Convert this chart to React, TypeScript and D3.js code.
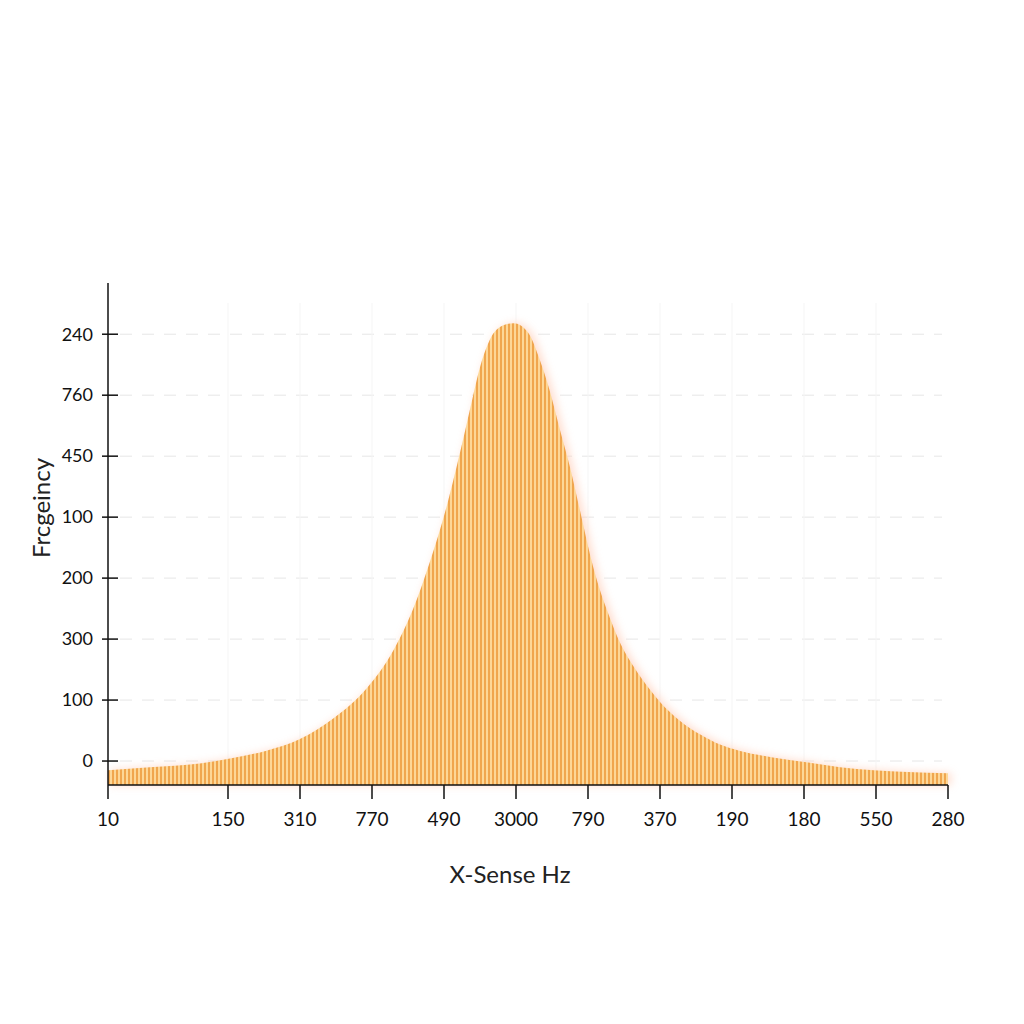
import { useEffect, useRef } from "react";
import * as d3 from "d3";

// bin position (in axis units) and height
const BIN_X = [
  0, 1.75, 3.83, 5.2, 6.6, 8.0, 9.4, 10.8, 11.9, 12.7, 13.4, 14.1, 14.8, 15.2,
  15.5, 15.9, 16.5, 16.9, 17.5, 18.0, 18.4, 18.8, 19.25, 19.7, 20.1, 20.5,
  20.9, 21.3, 21.9, 22.6, 23.0, 23.8, 24.7, 25.5, 26.3, 27.7, 29.1, 30.5, 31.9,
  33.3, 35,
];
const BIN_COUNT = [
  -0.15, -0.1, -0.04, 0.05, 0.17, 0.36, 0.7, 1.2, 1.82, 2.48, 3.25, 4.16, 5.28,
  5.97, 6.46, 6.9, 7.15, 7.18, 7.03, 6.57, 6.08, 5.48, 4.82, 4.05, 3.36, 2.8,
  2.36, 1.97, 1.55, 1.16, 0.97, 0.67, 0.43, 0.27, 0.17, 0.06, -0.02, -0.1,
  -0.15, -0.18, -0.2,
];

const X_TICKS = [0, 5, 8, 11, 14, 17, 20, 23, 26, 29, 32, 35];
const X_TICK_LABELS = [
  "10", "150", "310", "770", "490", "3000", "790", "370", "190", "180", "550", "280",
];
const Y_TICKS = [0, 1, 2, 3, 4, 5, 6, 7];
const Y_TICK_LABELS = ["0", "100", "300", "200", "100", "450", "760", "240"];

const X_TITLE = "X-Sense Hz";
const Y_TITLE = "Frcgeincy";

const W = 1024;
const H = 1024;
const PLOT = { left: 108, right: 948, top: 283, bottom: 785 };
const FONT = "Lato, 'DejaVu Sans', sans-serif";

export default function App() {
  const svgRef = useRef<SVGSVGElement>(null);

  useEffect(() => {
    const svgEl = svgRef.current;
    if (!svgEl) return;
    const svg = d3.select(svgEl);
    svg.selectAll("*").remove();

    const x = d3.scaleLinear().domain([0, 35]).range([PLOT.left, PLOT.right]);
    const y = d3.scaleLinear().domain([-0.393, 7.84]).range([PLOT.bottom, PLOT.top]);
    const yBase = y.domain()[0];

    const defs = svg.append("defs");
    const pat = defs
      .append("pattern")
      .attr("id", "stripes")
      .attr("patternUnits", "userSpaceOnUse")
      .attr("x", PLOT.left)
      .attr("width", 4)
      .attr("height", 10);
    pat.append("rect").attr("width", 4).attr("height", 10).attr("fill", "#fdd797");
    pat.append("rect").attr("width", 2).attr("height", 10).attr("fill", "#f0a64e");

    const glow = defs
      .append("filter")
      .attr("id", "glow")
      .attr("x", "-20%")
      .attr("y", "-20%")
      .attr("width", "140%")
      .attr("height", "140%");
    glow.append("feGaussianBlur").attr("stdDeviation", 4);

    // gridlines (very faint)
    svg
      .append("g")
      .selectAll("line")
      .data(Y_TICKS)
      .join("line")
      .attr("x1", PLOT.left + 12)
      .attr("x2", PLOT.right - 6)
      .attr("y1", (d) => y(d))
      .attr("y2", (d) => y(d))
      .attr("stroke", "#e6e6e6")
      .attr("stroke-width", 1)
      .attr("stroke-dasharray", "12 10");

    svg
      .append("g")
      .selectAll("line")
      .data(X_TICKS.slice(1, -1))
      .join("line")
      .attr("x1", (d) => x(d))
      .attr("x2", (d) => x(d))
      .attr("y1", PLOT.top + 20)
      .attr("y2", PLOT.bottom)
      .attr("stroke", "#f5f5f5")
      .attr("stroke-width", 1);

    const pts = BIN_X.map((bx, i) => [bx, BIN_COUNT[i]] as [number, number]);
    const area = d3
      .area<[number, number]>()
      .x((d) => x(d[0]))
      .y0(y(yBase))
      .y1((d) => y(d[1]))
      .curve(d3.curveMonotoneX);

    // soft halo behind the distribution
    svg
      .append("path")
      .attr("d", area(pts)!)
      .attr("transform", "translate(3,0)")
      .attr("fill", "#ffcdb8")
      .attr("opacity", 0.7)
      .attr("filter", "url(#glow)");

    svg.append("path").attr("d", area(pts)!).attr("fill", "url(#stripes)");

    // y axis
    svg
      .append("line")
      .attr("x1", PLOT.left)
      .attr("x2", PLOT.left)
      .attr("y1", PLOT.top)
      .attr("y2", PLOT.bottom)
      .attr("stroke", "#111")
      .attr("stroke-width", 1.5);

    const yg = svg.append("g");
    Y_TICKS.forEach((t, i) => {
      yg.append("line")
        .attr("x1", PLOT.left - 6)
        .attr("x2", PLOT.left + 10)
        .attr("y1", y(t))
        .attr("y2", y(t))
        .attr("stroke", "#111")
        .attr("stroke-width", 1.5);
      yg.append("text")
        .attr("x", 93)
        .attr("y", y(t))
        .attr("dy", "0.35em")
        .attr("text-anchor", "end")
        .attr("font-family", FONT)
        .attr("font-size", 18)
        .attr("fill", "#111")
        .text(Y_TICK_LABELS[i]);
    });

    // x axis
    svg
      .append("line")
      .attr("x1", PLOT.left)
      .attr("x2", PLOT.right)
      .attr("y1", PLOT.bottom)
      .attr("y2", PLOT.bottom)
      .attr("stroke", "#111")
      .attr("stroke-width", 1.5);

    const xg = svg.append("g");
    X_TICKS.forEach((t, i) => {
      xg.append("line")
        .attr("x1", x(t))
        .attr("x2", x(t))
        .attr("y1", PLOT.bottom)
        .attr("y2", PLOT.bottom + 14)
        .attr("stroke", "#111")
        .attr("stroke-width", 1.5);
      xg.append("text")
        .attr("x", x(t))
        .attr("y", 819)
        .attr("dy", "0.35em")
        .attr("text-anchor", "middle")
        .attr("font-family", FONT)
        .attr("font-size", 19)
        .attr("fill", "#111")
        .text(X_TICK_LABELS[i]);
    });

    svg
      .append("text")
      .attr("x", 510)
      .attr("y", 875)
      .attr("dy", "0.35em")
      .attr("text-anchor", "middle")
      .attr("font-family", FONT)
      .attr("font-size", 24)
      .attr("fill", "#222")
      .text(X_TITLE);

    svg
      .append("text")
      .attr("transform", "translate(42,508) rotate(-90)")
      .attr("dy", "0.35em")
      .attr("text-anchor", "middle")
      .attr("font-family", FONT)
      .attr("font-size", 24)
      .attr("fill", "#222")
      .text(Y_TITLE);
  }, []);

  return (
    <svg
      ref={svgRef}
      width={W}
      height={H}
      style={{ position: "absolute", left: 0, top: 0, background: "#fff" }}
    />
  );
}
